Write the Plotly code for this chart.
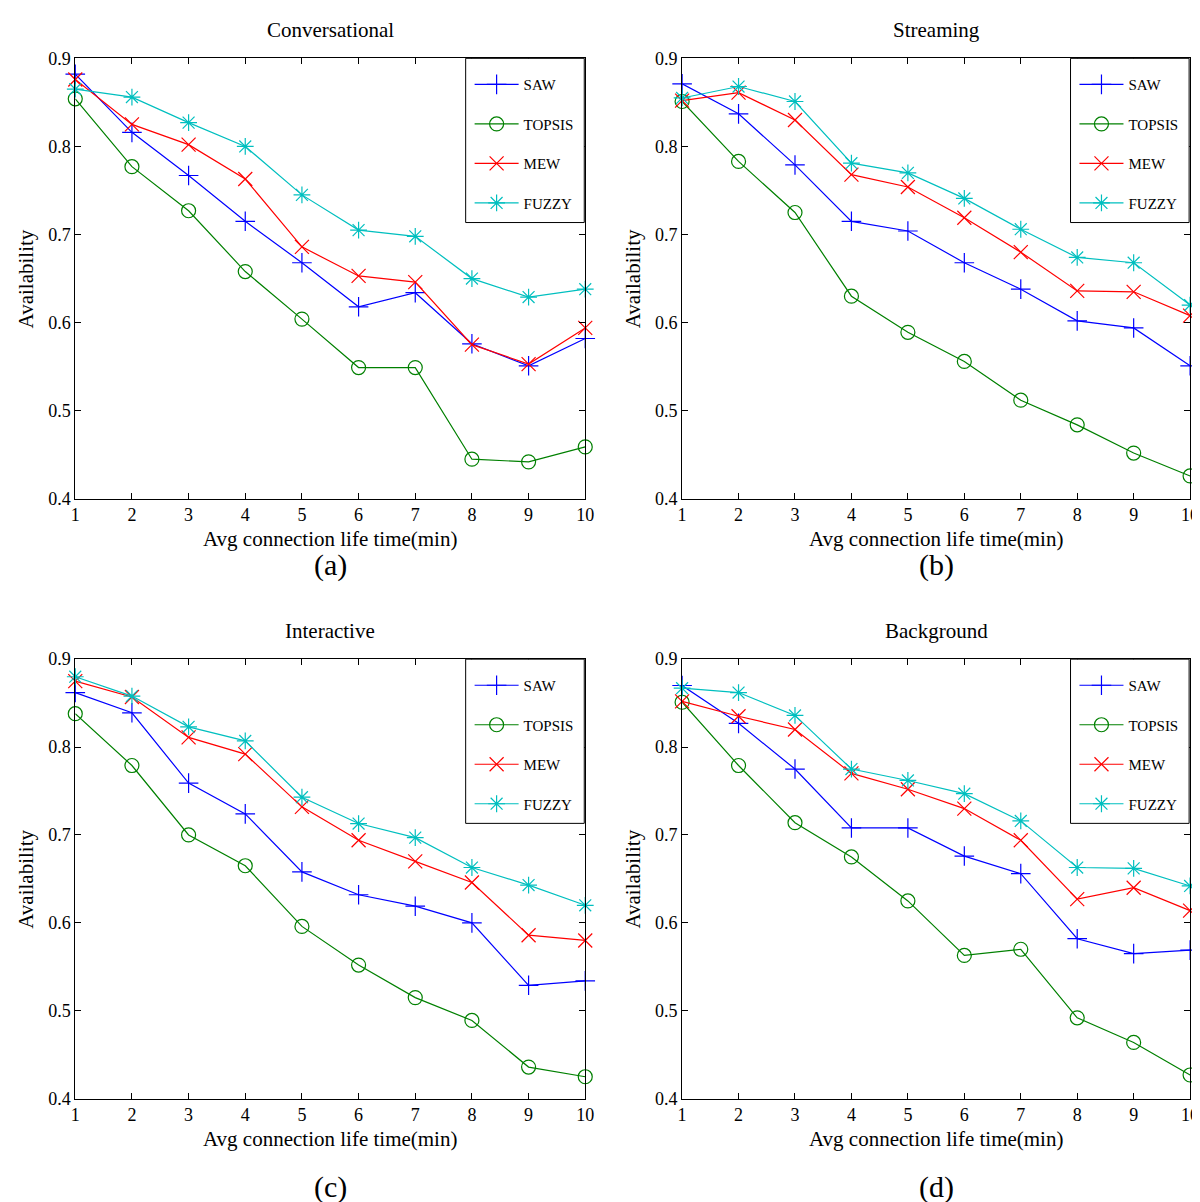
import plotly.graph_objects as go

# x values: average connection life time (min)
life_time = [1, 2, 3, 4, 5, 6, 7, 8, 9, 10]

methods = ["SAW", "TOPSIS", "MEW", "FUZZY"]

# Conversational
conv_saw = [0.882, 0.816, 0.767, 0.715, 0.668, 0.618, 0.634, 0.576, 0.551, 0.582]
conv_topsis = [0.854, 0.777, 0.727, 0.658, 0.604, 0.549, 0.549, 0.445, 0.442, 0.459]
conv_mew = [0.876, 0.825, 0.802, 0.763, 0.686, 0.653, 0.646, 0.575, 0.553, 0.594]
conv_fuzzy = [0.865, 0.856, 0.827, 0.800, 0.745, 0.705, 0.698, 0.650, 0.629, 0.638]

# Streaming
stream_saw = [0.871, 0.837, 0.779, 0.715, 0.704, 0.668, 0.638, 0.602, 0.594, 0.551]
stream_topsis = [0.851, 0.783, 0.725, 0.630, 0.589, 0.556, 0.512, 0.484, 0.452, 0.426]
stream_mew = [0.852, 0.861, 0.830, 0.768, 0.754, 0.719, 0.680, 0.636, 0.635, 0.608]
stream_fuzzy = [0.855, 0.868, 0.851, 0.781, 0.770, 0.741, 0.706, 0.674, 0.668, 0.620]

# Interactive
inter_saw = [0.862, 0.839, 0.759, 0.724, 0.658, 0.632, 0.619, 0.600, 0.529, 0.534]
inter_topsis = [0.838, 0.779, 0.700, 0.665, 0.596, 0.552, 0.515, 0.489, 0.436, 0.425]
inter_mew = [0.875, 0.857, 0.811, 0.792, 0.732, 0.694, 0.670, 0.646, 0.586, 0.580]
inter_fuzzy = [0.880, 0.858, 0.823, 0.807, 0.743, 0.713, 0.697, 0.663, 0.643, 0.620]

# Background
back_saw = [0.870, 0.827, 0.775, 0.708, 0.708, 0.676, 0.656, 0.582, 0.565, 0.569]
back_topsis = [0.851, 0.779, 0.714, 0.675, 0.625, 0.563, 0.570, 0.492, 0.464, 0.427]
back_mew = [0.852, 0.835, 0.820, 0.770, 0.752, 0.730, 0.694, 0.627, 0.640, 0.614]
back_fuzzy = [0.867, 0.862, 0.836, 0.775, 0.762, 0.747, 0.716, 0.663, 0.662, 0.642]

panel_titles = ["Conversational", "Streaming", "Interactive", "Background"]
panel_tags = ["(a)", "(b)", "(c)", "(d)"]
panel_data = [
    [conv_saw, conv_topsis, conv_mew, conv_fuzzy],
    [stream_saw, stream_topsis, stream_mew, stream_fuzzy],
    [inter_saw, inter_topsis, inter_mew, inter_fuzzy],
    [back_saw, back_topsis, back_mew, back_fuzzy],
]

# MATLAB-ish default colour order
colors = {"SAW": "#0000FF", "TOPSIS": "#008000", "MEW": "#FF0000", "FUZZY": "#00BFBF"}
symbols = {
    "SAW": "cross-thin-open",
    "TOPSIS": "circle-open",
    "MEW": "x-thin-open",
    "FUZZY": "asterisk-open",
}

W, H = 1200, 1202
FONT = "Liberation Serif, Times New Roman, serif"


def px(x):
    return x / W


def py(y):
    return 1 - y / H


# pixel boxes of each axes: (left, right, top, bottom)
boxes = [(63, 579, 41, 489), (677, 1191, 41, 489), (63, 579, 652, 1099), (677, 1191, 652, 1099)]

fig = go.Figure()
layout = {}
annotations = []
shapes = []

for i, (title, tag, series, box) in enumerate(zip(panel_titles, panel_tags, panel_data, boxes)):
    n = "" if i == 0 else str(i + 1)
    left, right, top, bottom = box
    leg = "legend" if i == 0 else f"legend{i + 1}"

    for name, y in zip(methods, series):
        fig.add_trace(
            go.Scatter(
                x=life_time,
                y=y,
                mode="lines+markers",
                name=name,
                legendgroup=f"{tag}{name}",
                legend=leg,
                cliponaxis=False,
                line=dict(color=colors[name], width=1.2),
                marker=dict(
                    symbol=symbols[name],
                    size=14,
                    color=colors[name],
                    line=dict(color=colors[name], width=1.2),
                ),
                xaxis=f"x{n}",
                yaxis=f"y{n}",
            )
        )

    axis_common = dict(
        showline=True,
        linecolor="black",
        linewidth=1,
        mirror="allticks",
        ticks="inside",
        ticklen=6,
        tickcolor="black",
        showgrid=False,
        zeroline=False,
        tickfont=dict(family=FONT, size=18, color="black"),
    )
    layout[f"xaxis{n}"] = dict(
        axis_common,
        domain=[px(left), px(right)],
        anchor=f"y{n}",
        range=[1, 10],
        tickvals=life_time,
    )
    layout[f"yaxis{n}"] = dict(
        axis_common,
        domain=[py(bottom), py(top)],
        anchor=f"x{n}",
        range=[0.4, 0.9],
        dtick=0.1,
        tickformat=".1f",
    )

    # legend box drawn as a frame, legend itself sits inside it
    shapes.append(
        dict(
            type="rect",
            xref="paper",
            yref="paper",
            x0=px(right - 121),
            x1=px(right - 1),
            y0=py(top + 167),
            y1=py(top),
            line=dict(color="black", width=1),
            fillcolor="white",
            layer="above",
        )
    )
    layout[leg] = dict(
        x=px(right - 117),
        y=py(top + 10),
        xanchor="left",
        yanchor="top",
        bgcolor="rgba(0,0,0,0)",
        borderwidth=0,
        itemwidth=44,
        tracegroupgap=17,
        font=dict(family=FONT, size=15, color="black"),
    )

    cx = (left + right) / 2
    annotations.append(dict(text=title, x=px(cx), y=py(top - 29), font=dict(size=21)))
    annotations.append(
        dict(text="Avg connection life time(min)", x=px(cx), y=py(bottom + 41), font=dict(size=21))
    )
    annotations.append(dict(text=tag, x=px(cx), y=py(bottom + 67 if i < 2 else bottom + 90), font=dict(size=30)))
    annotations.append(
        dict(
            text="Availability",
            x=px(left - 50),
            y=py((top + bottom) / 2),
            textangle=-90,
            font=dict(size=21),
        )
    )

for a in annotations:
    a.update(xref="paper", yref="paper", showarrow=False, xanchor="center", yanchor="middle")
    a["font"].update(family=FONT, color="black")

fig.update_layout(
    width=W,
    height=H,
    margin=dict(l=0, r=0, t=0, b=0),
    paper_bgcolor="white",
    plot_bgcolor="white",
    annotations=annotations,
    shapes=shapes,
    **layout,
)

fig.write_html("out.html")
